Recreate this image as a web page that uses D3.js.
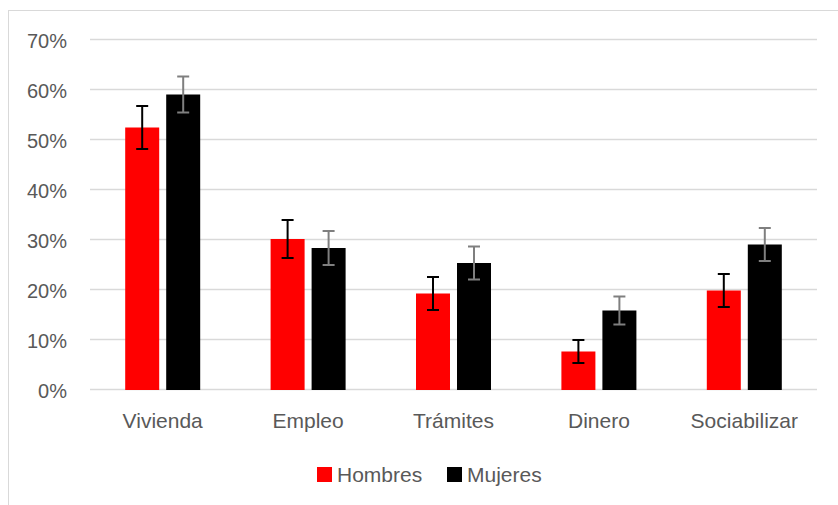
<!DOCTYPE html>
<html><head><meta charset="utf-8">
<script src="https://cdn.jsdelivr.net/npm/d3@7"></script>
<style>body{margin:0;background:#fff}svg{display:block}text{font-family:"Liberation Sans",Arial,sans-serif;fill:#595959}</style>
</head><body><svg id="c" width="838" height="505"></svg>
<script>
const categories = ["Vivienda","Empleo","Trámites","Dinero","Sociabilizar"];
const seriesNames = ["Hombres","Mujeres"];
const hombres = [0.525, 0.302, 0.193, 0.077, 0.199];
const mujeres = [0.591, 0.284, 0.254, 0.159, 0.291];
const hombresErr = [0.043, 0.038, 0.033, 0.023, 0.033];
const mujeresErr = [0.036, 0.034, 0.033, 0.028, 0.033];
const yTicks = [0,0.1,0.2,0.3,0.4,0.5,0.6,0.7];
const colors = ["#ff0000","#000000"];
const errColors = ["#000000","#7f7f7f"];

const svg = d3.select("#c");
svg.append("rect").attr("x",8.5).attr("y",10.5).attr("width",840).attr("height",510)
  .attr("fill","#fff").attr("stroke","#d9d9d9").attr("stroke-width",1);

const x0 = d3.scaleBand().domain(categories).range([90,817]).paddingInner(0).paddingOuter(0);
const x1 = d3.scaleBand().domain(seriesNames).range([0,75]).paddingInner(7/41).paddingOuter(0);
const y = d3.scaleLinear().domain([0,0.7]).range([390,40]);

const grid = svg.append("g");
grid.selectAll("line").data(yTicks).join("line")
  .attr("x1",90).attr("x2",817).attr("y1",d=>Math.round(y(d))-0.5).attr("y2",d=>Math.round(y(d))-0.5)
  .attr("stroke","#d9d9d9").attr("stroke-width",1.5);

const yAxis = d3.axisLeft(y).tickValues(yTicks).tickFormat(d3.format(".0%")).tickSize(0).tickPadding(0);
const ya = svg.append("g").attr("transform","translate(67,0)").call(yAxis);
ya.select(".domain").remove();
ya.selectAll("text").style("font-size","20px").attr("fill","#595959").attr("font-family","Liberation Sans, Arial, sans-serif").attr("dy","0.35em");

const series = [
  {name:"Hombres", values:hombres, err:hombresErr},
  {name:"Mujeres", values:mujeres, err:mujeresErr}
];
const groupOffset = (x0.bandwidth()-75)/2;
series.forEach((s,si)=>{
  const g = svg.append("g");
  const data = categories.map((c,i)=>({c, v:s.values[i], e:s.err[i]}));
  g.selectAll("rect").data(data).join("rect")
    .attr("x",d=>x0(d.c)+groupOffset+x1(s.name))
    .attr("width",x1.bandwidth())
    .attr("y",d=>y(d.v)).attr("height",d=>y(0)-y(d.v))
    .attr("fill",colors[si]);
  const cx = d=>x0(d.c)+groupOffset+x1(s.name)+x1.bandwidth()/2;
  const eg = g.selectAll("g.err").data(data).join("g").attr("class","err")
    .attr("stroke",errColors[si]).attr("stroke-width",2);
  eg.append("line").attr("x1",cx).attr("x2",cx).attr("y1",d=>y(d.v+d.e)).attr("y2",d=>y(d.v-d.e));
  eg.append("line").attr("x1",d=>cx(d)-6).attr("x2",d=>cx(d)+6).attr("y1",d=>y(d.v+d.e)).attr("y2",d=>y(d.v+d.e));
  eg.append("line").attr("x1",d=>cx(d)-6).attr("x2",d=>cx(d)+6).attr("y1",d=>y(d.v-d.e)).attr("y2",d=>y(d.v-d.e));
});

const xAxis = d3.axisBottom(x0).tickSize(0).tickPadding(0);
const xa = svg.append("g").attr("transform","translate(0,428)").call(xAxis);
xa.select(".domain").remove();
xa.selectAll("text").style("font-size","21px").attr("fill","#595959").attr("font-family","Liberation Sans, Arial, sans-serif").attr("dy",0).attr("y",0);

const legendX = [317, 447];
const lg = svg.append("g");
seriesNames.forEach((n,i)=>{
  lg.append("rect").attr("x",legendX[i]).attr("y",467).attr("width",15).attr("height",15).attr("fill",colors[i]);
  lg.append("text").attr("x",legendX[i]+20).attr("y",482).style("font-size","21px").text(n);
});
</script></body></html>
